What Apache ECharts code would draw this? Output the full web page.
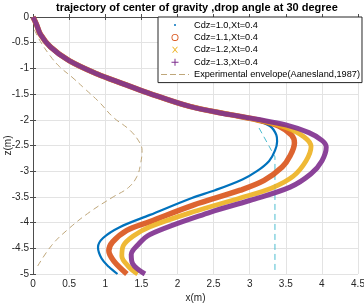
<!DOCTYPE html>
<html><head><meta charset="utf-8">
<script src="https://cdn.jsdelivr.net/npm/echarts@6/dist/echarts.min.js"></script>
<style>html,body{margin:0;padding:0;background:#fff}#c{width:364px;height:305px}</style>
</head><body><div id="c"></div>
<script>
var titleText = 'trajectory of center of gravity ,drop angle at 30 degree';
var xTicks = ['0','0.5','1','1.5','2','2.5','3','3.5','4','4.5'];
var seriesNames = ['Cdz=1.0,Xt=0.4','Cdz=1.1,Xt=0.4','Cdz=1.2,Xt=0.4','Cdz=1.3,Xt=0.4','Experimental envelope(Aanesland,1987)'];
var commonBranch = [[0,0],[0.05,-0.15],[0.1,-0.33],[0.24,-0.58],[0.5,-0.85],[0.89,-1.11],[1.25,-1.3],[1.6,-1.48],[2.17,-1.74],[2.73,-1.9]];
var cdz10 = [[3.05,-2.0],[3.28,-2.12],[3.37,-2.3],[3.38,-2.42],[3.35,-2.6],[3.27,-2.8],[3.1,-3.0],[2.9,-3.16],[2.52,-3.37],[2.2,-3.52],[1.62,-3.85],[1.2,-4.09],[0.97,-4.3],[0.9,-4.48],[0.95,-4.7],[1.05,-4.86],[1.17,-5.0]];
var cdz11 = [[3.1,-2.0],[3.4,-2.12],[3.58,-2.3],[3.62,-2.45],[3.56,-2.7],[3.45,-2.92],[3.2,-3.18],[2.87,-3.37],[2.22,-3.66],[1.62,-3.98],[1.3,-4.15],[1.1,-4.38],[1.05,-4.55],[1.12,-4.75],[1.3,-5.0]];
var cdz12 = [[3.1,-2.0],[3.5,-2.15],[3.75,-2.33],[3.85,-2.52],[3.78,-2.8],[3.6,-3.1],[3.3,-3.33],[2.87,-3.52],[2.22,-3.79],[1.62,-4.08],[1.4,-4.25],[1.25,-4.45],[1.23,-4.65],[1.32,-4.85],[1.45,-5.0]];
var cdz13 = [[3.1,-1.99],[3.5,-2.1],[3.82,-2.25],[4.0,-2.4],[4.06,-2.53],[4.0,-2.8],[3.85,-3.05],[3.56,-3.31],[3.0,-3.57],[2.45,-3.8],[1.62,-4.23],[1.44,-4.45],[1.36,-4.62],[1.38,-4.8],[1.55,-5.0]];
var envelope = [[0.02,-0.25],[0.1,-0.47],[0.24,-0.76],[0.37,-0.97],[0.54,-1.17],[0.72,-1.4],[0.92,-1.66],[1.11,-1.95],[1.34,-2.2],[1.48,-2.45],[1.51,-2.6],[1.49,-2.85],[1.44,-3.1],[1.32,-3.32],[1.11,-3.5],[0.79,-3.79],[0.51,-4.1],[0.26,-4.44],[0.05,-4.88]];
var envelope2 = [[3.13,-2.16],[3.35,-2.72],[3.35,-4.95]];

var colors = ['#0072BD','#D95319','#EDB120','#7E2F8E','#bfa77a','#4dbdd0'];
var F = 'Liberation Sans, Arial, sans-serif';
var B = 'M0 0 M28 9 ';
var icons = [
  B+'M13 4.5 A1 1 0 1 1 15 4.5 A1 1 0 1 1 13 4.5 Z',
  B+'M10.5 4.5 A3.5 3.5 0 1 1 17.5 4.5 A3.5 3.5 0 1 1 10.5 4.5 Z M11.4 4.5 A2.6 2.6 0 1 0 16.6 4.5 A2.6 2.6 0 1 0 11.4 4.5 Z',
  B+'M11 1.5 L12 1.5 L14 3.7 L16 1.5 L17 1.5 L14.5 4.5 L17 7.5 L16 7.5 L14 5.3 L12 7.5 L11 7.5 L13.5 4.5 Z',
  B+'M13.5 1 L14.5 1 L14.5 4 L17.5 4 L17.5 5 L14.5 5 L14.5 8 L13.5 8 L13.5 5 L10.5 5 L10.5 4 L13.5 4 Z',
  B+'M0 4 L6 4 L6 5 L0 5 Z M9 4 L15 4 L15 5 L9 5 Z M18 4 L24 4 L24 5 L18 5 Z M27 4 L28 4 L28 5 L27 5 Z'
];
function withCommon(arr){ return commonBranch.concat(arr); }
var curveData = [withCommon(cdz10), withCommon(cdz11), withCommon(cdz12), withCommon(cdz13)];
var widths = [2.2, 5.5, 4.8, 5];

var chart = echarts.init(document.getElementById('c'));
var series = [];
for (var i=0;i<4;i++){
  series.push({name: seriesNames[i], type:'line', data: curveData[i], smooth:0.35, symbol:'none',
    color: colors[i], lineStyle:{color:colors[i], width:widths[i], opacity: i===0?1:0.9}, z: 3+i, animation:false});
}
series.push({name: seriesNames[4], type:'line', data: envelope, smooth:0.4, symbol:'none', color: colors[4],
  lineStyle:{color:colors[4], width:1, type:[6,4]}, z:2, animation:false});
series.push({name: 'envelope-b', type:'line', data: envelope2, smooth:0, symbol:'none', color: colors[5],
  lineStyle:{color:colors[5], width:1, type:[6,4]}, z:2, animation:false});

var axisCommon = {
  axisLine:{show:true, lineStyle:{color:'#4d4d4d', width:1}},
  axisTick:{show:true, inside:true, length:3, lineStyle:{color:'#4d4d4d'}},
};
chart.setOption({
  backgroundColor:'#fff',
  animation:false,
  title:{text:titleText, left:56, top:2, padding:0, textStyle:{fontFamily:F, fontSize:11, fontWeight:'bold', color:'#000'}},
  legend:{orient:'vertical', left:158, top:17, padding:[2,2,2,3], itemWidth:28, itemHeight:9, itemGap:0.4,
    backgroundColor:'#fff', borderColor:'#262626', borderWidth:1, borderRadius:0,
    itemStyle:{borderWidth:0},
    textStyle:{fontFamily:F, fontSize:9.2, color:'#000', lineHeight:12},
    data: seriesNames.map(function(n,k){ return {name:n, icon:'path://'+icons[k]}; })},
  grid:{left:33, right:6, top:17, bottom:31, containLabel:false, outerBoundsMode:'none'},
  xAxis:[
    Object.assign({type:'value', min:0, max:4.5, interval:0.5, position:'bottom',
      name:'x(m)', nameLocation:'middle', nameGap:19, nameMoveOverlap:false, nameTextStyle:{fontFamily:F, fontSize:10, color:'#262626'},
      axisLabel:{fontFamily:F, fontSize:10, color:'#262626', margin:5, formatter:function(v){ var k=Math.round(v/0.5); return xTicks[k]; }},
      splitLine:{show:true, lineStyle:{color:'#e3e3e3', width:1}}}, axisCommon),
    Object.assign({type:'value', min:0, max:4.5, interval:0.5, position:'top', axisLabel:{show:false}, splitLine:{show:false}}, axisCommon)
  ],
  yAxis:[
    Object.assign({type:'value', min:-5, max:0, interval:0.5, position:'left',
      name:'z(m)', nameLocation:'middle', nameGap:20, nameRotate:90, nameMoveOverlap:false, nameTextStyle:{fontFamily:F, fontSize:10, color:'#262626'},
      axisLabel:{fontFamily:F, fontSize:10, color:'#262626', margin:4},
      splitLine:{show:true, lineStyle:{color:'#e3e3e3', width:1}}}, axisCommon),
    Object.assign({type:'value', min:-5, max:0, interval:0.5, position:'right', axisLabel:{show:false}, splitLine:{show:false}}, axisCommon)
  ],
  series: series
});
</script></body></html>
